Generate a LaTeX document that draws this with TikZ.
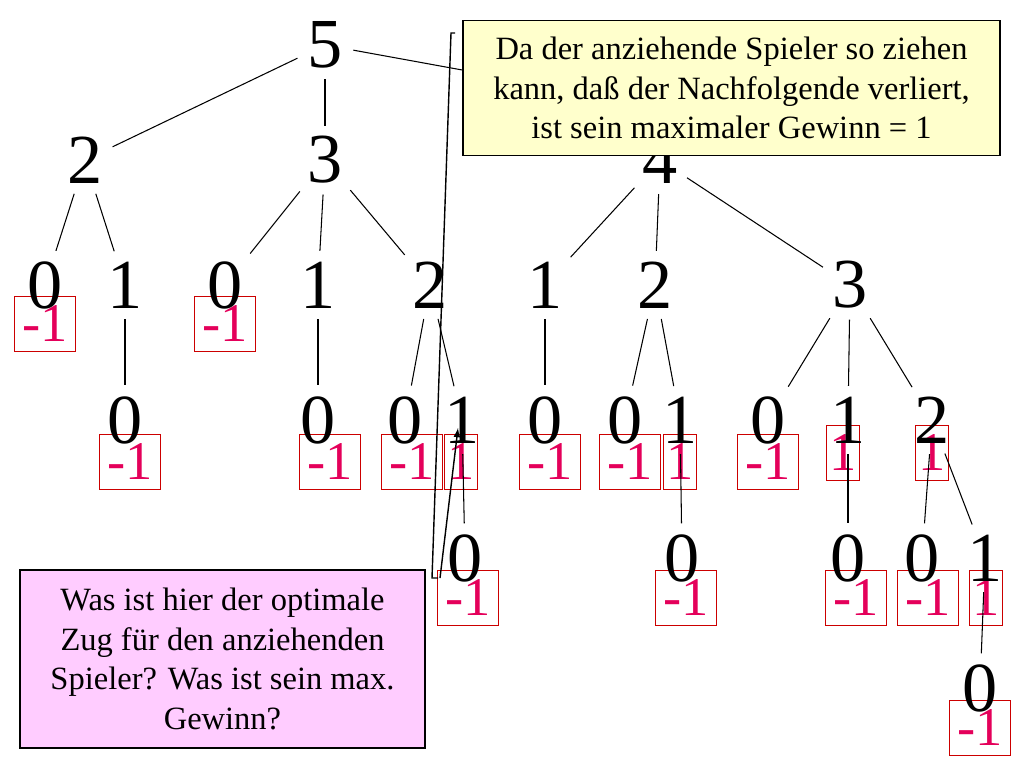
\documentclass[tikz,border=0pt]{standalone}
\usepackage{fontspec}
\setmainfont{Liberation Serif}
\definecolor{rd}{RGB}{228,0,90}
\definecolor{yel}{RGB}{255,255,204}
\definecolor{pnk}{RGB}{255,204,255}
\begin{document}
\begin{tikzpicture}[x=0.02cm,y=-0.02cm,
  dg/.style={inner sep=1pt,font=\fontsize{40}{40}\selectfont},
  rb/.style={draw=red!80!black,line width=0.6pt,text=rd,minimum width=1.22cm,minimum height=1.1cm,inner sep=0pt,font=\fontsize{31}{31}\selectfont},
  rbs/.style={rb,minimum width=0.66cm},
  ed/.style={line width=0.6pt,shorten <=5pt,shorten >=5pt},
  call/.style={draw,line width=0.9pt,align=center,font=\fontsize{18.5}{22.5}\selectfont,inner sep=2pt}]
\useasboundingbox (0,0) rectangle (1024,768);
% red boxes
\node[rb] (r1) at (45,324) {-1};
\node[rb] (r2) at (225,324) {-1};
\node[rb] (r3) at (130,462) {-1};
\node[rb] (r4) at (330,462) {-1};
\node[rb] (r5) at (412,462) {-1};
\node[rbs] (r6) at (461,462) {1};
\node[rb] (r7) at (550,462) {-1};
\node[rb] (r8) at (630,462) {-1};
\node[rbs] (r9) at (680,462) {1};
\node[rb] (r10) at (768,462) {-1};
\node[rbs] (r11) at (843,453) {1};
\node[rbs] (r12) at (932,453) {1};
\node[rb] (r13) at (468,598) {-1};
\node[rb] (r14) at (686,598) {-1};
\node[rb] (r15) at (856,598) {-1};
\node[rb] (r16) at (928,598) {-1};
\node[rbs] (r17) at (986,598) {1};
\node[rb] (r18) at (980,728) {-1};
% digits
\node[dg] (a) at (325,45) {5};
\node[dg] (b1) at (85,160) {2};
\node[dg] (b2) at (325,160) {3};
\node[dg] (b3) at (660,160) {4};
\node[dg] (c1) at (45,285) {0};
\node[dg] (c2) at (125,285) {1};
\node[dg] (c3) at (225,285) {0};
\node[dg] (c4) at (318,285) {1};
\node[dg] (c5) at (430,285) {2};
\node[dg] (c6) at (545,285) {1};
\node[dg] (c7) at (655,285) {2};
\node[dg] (c8) at (850,285) {3};
\node[dg] (d1) at (125,420) {0};
\node[dg] (d2) at (318,420) {0};
\node[dg] (d3) at (405,420) {0};
\node[dg] (d4) at (462,420) {1};
\node[dg] (d5) at (545,420) {0};
\node[dg] (d6) at (625,420) {0};
\node[dg] (d7) at (680,420) {1};
\node[dg] (d8) at (768,420) {0};
\node[dg] (d9) at (848,420) {1};
\node[dg] (d10) at (932,420) {2};
\node[dg] (e1) at (465,558) {0};
\node[dg] (e2) at (682,558) {0};
\node[dg] (e3) at (848,558) {0};
\node[dg] (e4) at (922,558) {0};
\node[dg] (e5) at (985,558) {1};
\node[dg] (f1) at (980,688) {0};
% edges
\foreach \p/\c in {a/b1,a/b2,b1/c1,b1/c2,b2/c3,b2/c4,b2/c5,b3/c6,b3/c7,b3/c8,
  c2/d1,c4/d2,c5/d3,c5/d4,c6/d5,c7/d6,c7/d7,c8/d8,c8/d9,c8/d10,
  d4/e1,d7/e2,d9/e3,d10/e4,d10/e5,e5/f1}
  \draw[ed] (\p) -- (\c);
% callouts
\node[call,fill=yel,minimum width=10.74cm,minimum height=2.7cm] (t) at (731.5,88) {Da der anziehende Spieler so ziehen\\kann, daß der Nachfolgende verliert,\\ist sein maximaler Gewinn = 1};
\node[call,fill=pnk,minimum width=8.1cm,minimum height=3.56cm] (q) at (222.5,659) {Was ist hier der optimale\\Zug für den anziehenden\\Spieler? Was ist sein max.\\Gewinn?};
\draw[line width=0.6pt,shorten <=5pt] (a) -- (t.west |- 0,70);
\draw[line width=0.8pt] (455,33) -- (451,33) -- (432,578) -- (438,578);
\draw[line width=0.8pt,-latex] (440,578) -- (458,428);
\end{tikzpicture}
\end{document}
